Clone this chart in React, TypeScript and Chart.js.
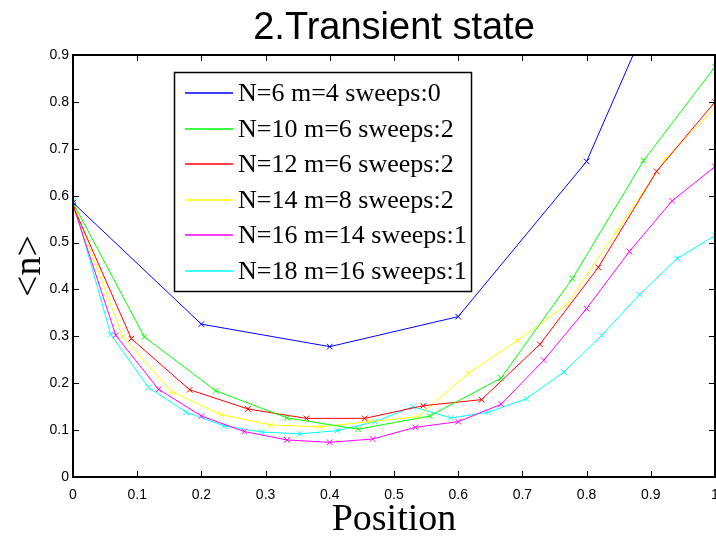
import React, { useEffect, useRef } from "react";
import { Chart, registerables } from "chart.js";

Chart.register(...registerables);

// Sample positions and mean occupation <n> for each run
const xN6 = [0, 0.2, 0.4, 0.6, 0.8, 1.0];
const yN6 = [0.585, 0.326, 0.278, 0.342, 0.673, 1.3];

const xN10 = [0, 0.1111, 0.2222, 0.3333, 0.4444, 0.5556, 0.6667, 0.7778, 0.8889, 1.0];
const yN10 = [0.585, 0.299, 0.184, 0.126, 0.102, 0.13, 0.211, 0.423, 0.675, 0.875];

const xN12 = [0, 0.0909, 0.1818, 0.2727, 0.3636, 0.4545, 0.5455, 0.6364, 0.7273, 0.8182, 0.9091, 1.0];
const yN12 = [0.578, 0.295, 0.186, 0.145, 0.125, 0.125, 0.152, 0.165, 0.283, 0.447, 0.652, 0.8];

const xN14 = [0, 0.0769, 0.1538, 0.2308, 0.3077, 0.3846, 0.4615, 0.5385, 0.6154, 0.6923, 0.7692, 0.8462, 0.9231, 1.0];
const yN14 = [0.585, 0.3, 0.182, 0.133, 0.111, 0.107, 0.118, 0.129, 0.221, 0.291, 0.368, 0.523, 0.679, 0.787];

const xN16 = [0, 0.0667, 0.1333, 0.2, 0.2667, 0.3333, 0.4, 0.4667, 0.5333, 0.6, 0.6667, 0.7333, 0.8, 0.8667, 0.9333, 1.0];
const yN16 = [0.58, 0.302, 0.187, 0.13, 0.097, 0.079, 0.074, 0.081, 0.106, 0.118, 0.155, 0.249, 0.359, 0.481, 0.589, 0.662];

const xN18 = [0, 0.0588, 0.1176, 0.1765, 0.2353, 0.2941, 0.3529, 0.4118, 0.4706, 0.5294, 0.5882, 0.6471, 0.7059, 0.7647, 0.8235, 0.8824, 0.9412, 1.0];
const yN18 = [0.59, 0.304, 0.191, 0.138, 0.109, 0.096, 0.092, 0.099, 0.118, 0.15, 0.126, 0.138, 0.167, 0.224, 0.302, 0.389, 0.466, 0.515];

const seriesLabels = [
  "N=6 m=4 sweeps:0",
  "N=10 m=6 sweeps:2",
  "N=12 m=6 sweeps:2",
  "N=14 m=8 sweeps:2",
  "N=16 m=14 sweeps:1",
  "N=18 m=16 sweeps:1",
];
const seriesColors = ["#0000ff", "#00ff00", "#ff0000", "#ffff00", "#ff00ff", "#00ffff"];
const seriesX = [xN6, xN10, xN12, xN14, xN16, xN18];
const seriesY = [yN6, yN10, yN12, yN14, yN16, yN18];

const xTickValues = [0, 0.1, 0.2, 0.3, 0.4, 0.5, 0.6, 0.7, 0.8, 0.9, 1.0];
const yTickValues = [0, 0.1, 0.2, 0.3, 0.4, 0.5, 0.6, 0.7, 0.8, 0.9];

const chartTitle = "2.Transient state";
const xTitle = "Position";
const yTitle = "<n>";

const SANS = "'Liberation Sans', Arial, sans-serif";
const SERIF = "'Liberation Serif', 'Times New Roman', serif";

// Box frame with inward ticks, boxed legend and the three titles
const decorPlugin = {
  id: "boxDecor",
  afterDraw(chart: any) {
    const ctx: CanvasRenderingContext2D = chart.ctx;
    const area = chart.chartArea;
    const xs = chart.scales.x;
    const ys = chart.scales.y;
    const L = Math.round(area.left);
    const R = Math.round(area.right);
    const T = Math.round(area.top);
    const B = Math.round(area.bottom);
    const tick = 6;

    ctx.save();
    ctx.fillStyle = "#000000";
    // frame (2px)
    ctx.fillRect(L - 1, T - 1, R - L + 2, 2);
    ctx.fillRect(L - 1, B - 1, R - L + 2, 2);
    ctx.fillRect(L - 1, T - 1, 2, B - T + 2);
    ctx.fillRect(R - 1, T - 1, 2, B - T + 2);
    // inward tick marks
    for (const v of xTickValues) {
      const px = Math.round(xs.getPixelForValue(v));
      ctx.fillRect(px, B - tick, 1, tick);
      ctx.fillRect(px, T, 1, tick);
    }
    for (const v of yTickValues) {
      const py = Math.round(ys.getPixelForValue(v));
      ctx.fillRect(L, py, tick, 1);
      ctx.fillRect(R - tick, py, tick, 1);
    }

    // legend
    const lx = 174.5, ly = 72.5, lw = 297, lh = 219;
    ctx.fillStyle = "#ffffff";
    ctx.fillRect(lx, ly, lw, lh);
    ctx.strokeStyle = "#000000";
    ctx.lineWidth = 1.5;
    ctx.strokeRect(lx, ly, lw, lh);
    ctx.font = `26px ${SERIF}`;
    ctx.textAlign = "left";
    ctx.textBaseline = "middle";
    seriesLabels.forEach((label, i) => {
      const ry = Math.round(93 + i * 35.6);
      ctx.strokeStyle = seriesColors[i];
      ctx.lineWidth = 1.5;
      ctx.beginPath();
      ctx.moveTo(185, ry);
      ctx.lineTo(233, ry);
      ctx.stroke();
      ctx.fillStyle = "#000000";
      ctx.fillText(label, 238, ry + 1);
    });

    // titles
    const cx = (area.left + area.right) / 2;
    ctx.fillStyle = "#000000";
    ctx.textAlign = "center";
    ctx.textBaseline = "alphabetic";
    ctx.font = `38px ${SANS}`;
    ctx.fillText(chartTitle, cx, 39);
    ctx.font = `38px ${SERIF}`;
    ctx.fillText(xTitle, cx, 530);
    ctx.translate(30, (area.top + area.bottom) / 2);
    ctx.rotate(-Math.PI / 2);
    ctx.textBaseline = "middle";
    ctx.fillText(yTitle, 0, 0);
    ctx.restore();
  },
};

const fmt = (v: number) => String(Math.round(v * 10) / 10);

// Fixed axis box sizes; edge label overhang is left to spill over
const fixX = (s: any) => {
  s.height = 61;
  s.paddingLeft = 0;
  s.paddingRight = 0;
};
const fixY = (s: any) => {
  s.width = 73;
  s.paddingTop = 0;
  s.paddingBottom = 0;
};

export default function App() {
  const canvasRef = useRef<HTMLCanvasElement | null>(null);

  useEffect(() => {
    document.body.style.margin = "0";
    document.body.style.overflow = "hidden";
    const canvas = canvasRef.current;
    if (!canvas) return;

    const datasets = seriesLabels.map((label, i) => ({
      label,
      data: seriesX[i].map((x, j) => ({ x, y: seriesY[i][j] })),
      borderColor: seriesColors[i],
      backgroundColor: seriesColors[i],
      borderWidth: 1,
      pointStyle: "crossRot" as const,
      pointRadius: 4,
      pointBorderWidth: 1,
      pointBorderColor: seriesColors[i],
      fill: false,
      tension: 0,
    }));

    const chart = new Chart(canvas, {
      type: "line",
      data: { datasets },
      options: {
        responsive: false,
        animation: false,
        devicePixelRatio: 1,
        layout: { padding: { top: 55, right: 2, left: 0, bottom: 0 } },
        plugins: {
          legend: { display: false },
          title: { display: false },
          tooltip: { enabled: false },
        },
        scales: {
          x: {
            type: "linear",
            min: 0,
            max: 1,
            grid: { display: false, drawTicks: false },
            border: { display: false },
            ticks: {
              stepSize: 0.1,
              autoSkip: false,
              maxRotation: 0,
              padding: 10,
              color: "#000",
              font: { family: SANS, size: 14 },
              callback: (v: any) => fmt(Number(v)),
            },
            afterFit: fixX,
          },
          y: {
            type: "linear",
            min: 0,
            max: 0.9,
            grid: { display: false, drawTicks: false },
            border: { display: false },
            ticks: {
              stepSize: 0.1,
              autoSkip: false,
              padding: 4,
              color: "#000",
              font: { family: SANS, size: 14 },
              callback: (v: any) => fmt(Number(v)),
            },
            afterFit: fixY,
          },
        },
      },
      plugins: [decorPlugin],
    });

    return () => chart.destroy();
  }, []);

  return (
    <div style={{ position: "fixed", left: 0, top: 0, width: 720, height: 538, background: "#fff" }}>
      <canvas ref={canvasRef} width={720} height={538} style={{ display: "block" }} />
    </div>
  );
}
